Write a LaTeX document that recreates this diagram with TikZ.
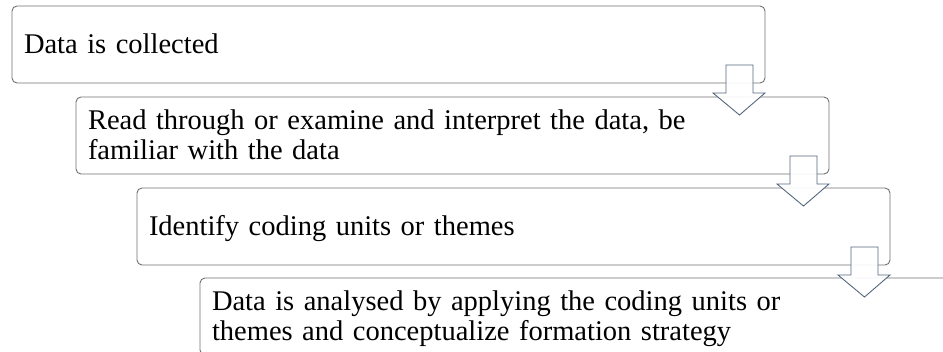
\documentclass[tikz,border=0pt]{standalone}
\usepackage{fontspec}
\setmainfont{Liberation Serif}
\usetikzlibrary{calc}
\definecolor{boxline}{RGB}{112,112,112}
\definecolor{arrline}{RGB}{85,103,127}
\newcommand\lst{\rule[-6.5pt]{0pt}{30pt}}
\tikzset{
  stepbox/.style={draw=boxline, line width=0.9pt, fill=white, rounded corners=5pt,
    anchor=north west, outer sep=0pt, minimum width=753pt, minimum height=77pt,
    text width=729pt, inner xsep=12pt, inner ysep=0pt, align=left,
    font=\fontsize{28.5pt}{30pt}\selectfont},
  pics/downarrow/.style={code={
    \draw[draw=arrline, line width=0.9pt, fill=white, fill opacity=0.92, line join=miter]
      (-39,-18) -- (-12,-18) -- (-12,10) -- (0,10) -- (-25.5,32) -- (-52,10) -- (-39,10) -- cycle;
  }}
}
\begin{document}
\begin{tikzpicture}[x=1pt,y=-1pt]
\useasboundingbox (0,0) rectangle (943,351);
\node[stepbox] (b1) at (12,6) {\lst Data is collected};
\node[stepbox] (b2) at (76,97) {\lst\makebox[614pt][s]{Read through or examine and interpret the data, be}\\\lst familiar with the data};
\node[stepbox] (b3) at (137,188) {\lst Identify coding units or themes};
\begin{scope}
\clip (0,0) rectangle (943,351);
\node[stepbox] (b4) at (200,278) {\lst\makebox[614pt][s]{Data is analysed by applying the coding units or}\\\lst themes and conceptualize formation strategy};
\end{scope}
\pic at (b1.south east) {downarrow};
\pic at (b2.south east) {downarrow};
\pic at (b3.south east) {downarrow};
\end{tikzpicture}
\end{document}
